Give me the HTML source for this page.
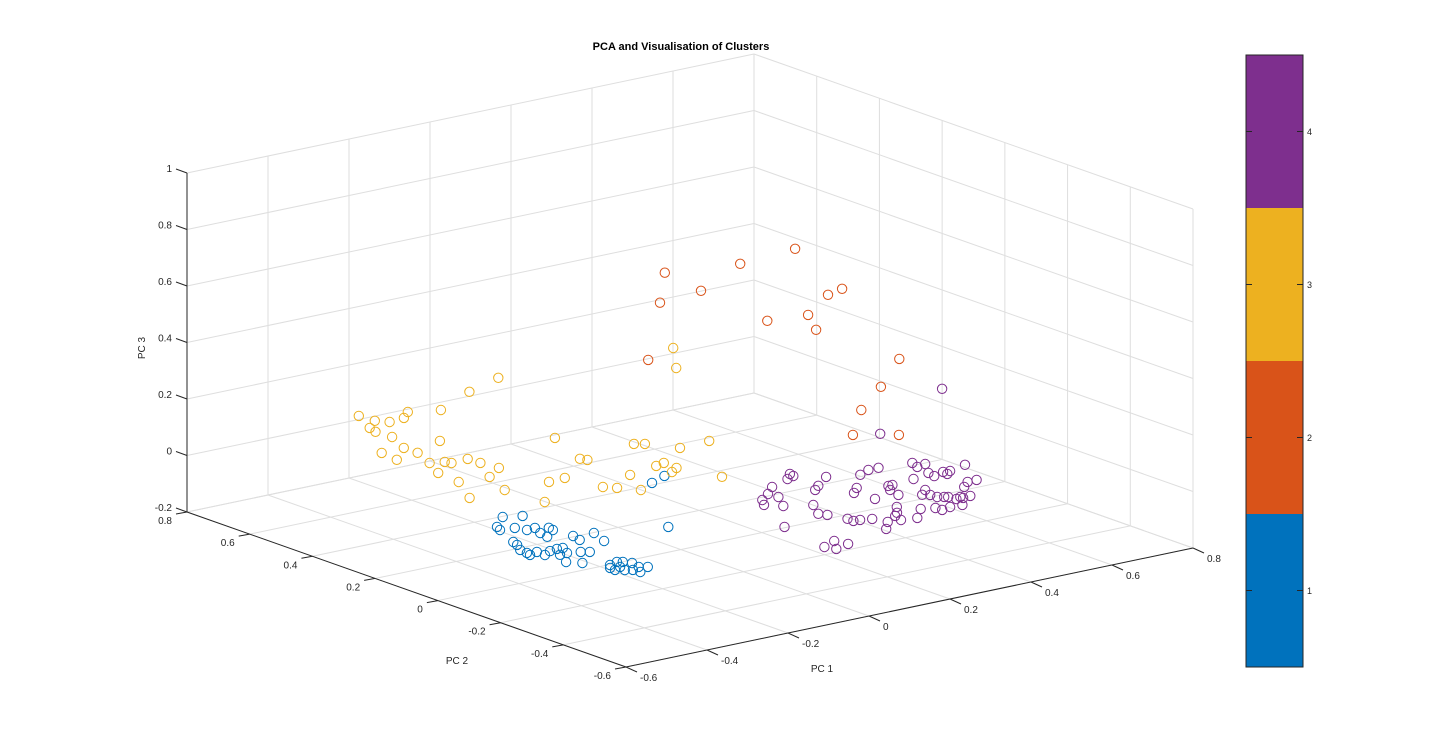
<!DOCTYPE html>
<html><head><meta charset="utf-8"><style>
html,body{margin:0;padding:0;background:#fff;}
svg{display:block;font-family:"Liberation Sans",sans-serif;}
</style></head><body>
<svg id="chart" width="1440" height="749" xmlns="http://www.w3.org/2000/svg">
<rect width="1440" height="749" fill="#fff"/>
<text x="681" y="50" text-anchor="middle" font-size="11" font-weight="bold" fill="#000">PCA and Visualisation of Clusters</text>
<g id="grid"></g>
<g id="axes"></g>
<g id="points"></g>
<text x="822" y="672" text-anchor="middle" font-size="10" fill="#262626">PC 1</text>
<text x="457" y="664" text-anchor="middle" font-size="10" fill="#262626">PC 2</text>
<text x="0" y="0" transform="translate(145,348) rotate(-90)" text-anchor="middle" font-size="10" fill="#262626">PC 3</text>
<g id="colorbar"></g>
</svg>
<script>
const pc1Ticks = [-0.6,-0.4,-0.2,0,0.2,0.4,0.6,0.8];
const pc2Ticks = [-0.6,-0.4,-0.2,0,0.2,0.4,0.6,0.8];
const pc3Ticks = [-0.2,0,0.2,0.4,0.6,0.8,1];
const pc1TickLabels = ["-0.6","-0.4","-0.2","0","0.2","0.4","0.6","0.8"];
const pc2TickLabels = ["-0.6","-0.4","-0.2","0","0.2","0.4","0.6","0.8"];
const pc3TickLabels = ["-0.2","0","0.2","0.4","0.6","0.8","1"];
const clusterLabels = ["1","2","3","4"];
const clusterColors = ["#0072BD","#D95319","#EDB120","#7E2F8E"];

const blueX = [-0.381,-0.433,-0.442,-0.410,-0.345,-0.400,-0.379,-0.393,-0.357,-0.399,-0.360,-0.481,-0.474,-0.498,-0.501,-0.505,-0.481,-0.482,-0.457,-0.437,-0.424,-0.439,-0.480,-0.355,-0.362,-0.310,-0.329,-0.413,-0.399,-0.459,-0.458,-0.425,-0.401,-0.392,-0.382,-0.389,-0.375,-0.439,-0.424,-0.411,-0.438,0.000,0.050,-0.168,-0.418,-0.409];
const blueY = [0.076,0.027,0.006,0.000,0.059,-0.026,-0.024,-0.059,-0.040,-0.089,-0.057,-0.099,-0.078,-0.131,-0.156,-0.171,-0.162,-0.189,-0.173,-0.169,-0.171,-0.204,-0.254,-0.115,-0.145,-0.123,-0.180,-0.214,-0.225,-0.279,-0.206,-0.323,-0.314,-0.321,-0.338,-0.368,-0.379,-0.357,-0.369,-0.378,-0.340,0.092,0.117,-0.177,-0.346,-0.399];
const blueZ = [0,0,0,0,0,0,0,0,0,0,0,0,0,0,0,0,0,0,0,0,0,0,0,0,0,0,0,0,0,0,0,0,0,0,0,0,0,0,0,0,0,0,0,0,0,0];

const orangeX = [0.322,0.183,0.478,0.629,0.299,-0.086,0.270,0.359,0.478,0.526,0.306,0.307,0.404,0.272,0.150,0.221];
const orangeY = [0.467,0.303,0.428,0.448,0.322,-0.007,0.073,0.058,0.148,0.165,-0.036,-0.300,-0.116,-0.224,-0.355,-0.410];
const orangeZ = [0.5,0.5,0.5,0.5,0.5,0.5,0.5,0.5,0.5,0.5,0.5,0.5,0.3,0.3,0.3,0.3];

const yellowX = [-0.408,-0.405,-0.444,-0.452,-0.387,-0.347,-0.315,-0.449,-0.535,-0.542,-0.479,-0.479,-0.505,-0.392,-0.477,-0.471,-0.535,-0.543,-0.428,-0.426,-0.596,-0.473,-0.419,-0.507,-0.498,-0.403,-0.201,-0.361,-0.254,-0.247,-0.342,-0.324,-0.247,-0.296,-0.167,-0.142,-0.169,-0.144,-0.105,-0.088,-0.051,0.025,-0.113,-0.025,-0.131,-0.255,0.005,-0.078];
const yellowY = [0.500,0.453,0.419,0.390,0.429,0.435,0.464,0.341,0.263,0.206,0.265,0.221,0.149,0.262,0.137,0.123,0.083,0.007,0.127,0.089,-0.096,-0.001,0.039,-0.093,-0.209,-0.100,0.142,-0.096,-0.006,-0.021,-0.193,-0.215,-0.157,-0.255,-0.137,-0.129,-0.190,-0.172,0.014,0.001,-0.063,-0.058,-0.277,0.550,0.505,0.436,0.031,-0.086];
const yellowZ = [0.2,0.2,0.2,0.2,0.2,0.2,0.2,0.2,0.2,0.2,0.2,0.2,0.2,0.2,0.2,0.2,0.2,0.2,0.2,0.2,0.2,0.2,0.2,0.2,0.2,0.2,0.2,0.2,0.2,0.2,0.2,0.2,0.2,0.2,0.2,0.2,0.2,0.2,0.2,0.2,0.2,0.2,0.2,0.2,0.2,0.2,0.5,0.5];

const purpleX = [0.738,0.445,0.268,0.293,0.234,0.171,0.145,0.172,0.121,0.098,0.129,0.125,0.103,0.044,0.007,-0.028,0.010,-0.047,-0.022,0.012,0.029,-0.002,0.131,0.145,0.145,0.160,-0.014,0.027,0.036,-0.004,0.183,0.161,0.194,0.232,0.214,0.229,0.239,0.205,0.367,0.357,0.298,0.382,0.348,0.343,0.375,0.373,0.390,0.268,0.242,0.254,0.256,0.267,0.273,0.277,0.292,0.292,0.260,0.205,0.207,0.232,0.178,0.257,0.440,0.369,0.392,0.342,0.312,0.150,0.124,0.223,0.151];
const purpleY = [0.120,-0.061,-0.252,-0.252,-0.270,-0.340,-0.365,-0.241,-0.282,-0.302,-0.181,-0.197,-0.207,-0.234,-0.269,-0.296,-0.298,-0.326,-0.355,-0.315,-0.385,-0.441,-0.298,-0.344,-0.363,-0.365,-0.476,-0.454,-0.487,-0.501,-0.374,-0.447,-0.409,-0.384,-0.391,-0.366,-0.366,-0.429,-0.264,-0.293,-0.357,-0.286,-0.340,-0.365,-0.352,-0.368,-0.355,-0.433,-0.457,-0.467,-0.487,-0.495,-0.500,-0.521,-0.514,-0.523,-0.562,-0.547,-0.566,-0.559,-0.535,-0.422,-0.338,-0.438,-0.437,-0.462,-0.520,-0.495,-0.529,-0.414,-0.424];
const purpleZ = [0.1,0.1,0.1,0.1,0.1,0.1,0.1,0.1,0.1,0.1,0.1,0.1,0.1,0.1,0.1,0.1,0.1,0.1,0.1,0,0.1,0.1,0,0,0,0,0,0,0,0,0,0,0,0,0.1,0.1,0.1,0.1,0.1,0.1,0.1,0.1,0.1,0.1,0.1,0.1,0.1,0.1,0.1,0.1,0.1,0.1,0.1,0.1,0.1,0.1,0.1,0.1,0.1,0.1,0.1,0,0.1,0.1,0.1,0.1,0.1,0.1,0.1,0,0.1];

const X0=-0.6, X1=0.8, Y0=-0.6, Y1=0.8, Z0=-0.2, Z1=1;
function proj(x,y,z){
  const a=(x-X0)/(X1-X0), b=(y-Y0)/(Y1-Y0), c=(z-Z0)/(Z1-Z0);
  return [626+567*a-439*b, 667-119*a-155*b-339*c];
}
const NS='http://www.w3.org/2000/svg';
function mk(tag,parent,attrs){const e=document.createElementNS(NS,tag);for(const k in attrs)e.setAttribute(k,attrs[k]);parent.appendChild(e);return e;}
function line(parent,p,q,col,w){return mk('line',parent,{x1:p[0],y1:p[1],x2:q[0],y2:q[1],stroke:col,'stroke-width':w});}

const grid=document.getElementById('grid');
const gc='#dedede';
// floor
pc1Ticks.forEach(t=>{const l=line(grid,proj(t,Y0,Z0),proj(t,Y1,Z0),gc,1);

});
pc2Ticks.forEach(t=>{const l=line(grid,proj(X0,t,Z0),proj(X1,t,Z0),gc,1);

});
// back wall y=Y1
pc1Ticks.forEach(t=>{const l=line(grid,proj(t,Y1,Z0),proj(t,Y1,Z1),gc,1);

});
pc3Ticks.forEach(t=>{const l=line(grid,proj(X0,Y1,t),proj(X1,Y1,t),gc,1);

});
// right wall x=X1
pc2Ticks.forEach(t=>{const l=line(grid,proj(X1,t,Z0),proj(X1,t,Z1),gc,1);

});
pc3Ticks.forEach(t=>{const l=line(grid,proj(X1,Y0,t),proj(X1,Y1,t),gc,1);

});

const axes=document.getElementById('axes');
const ac='#262626';
let a1=line(axes,proj(X0,Y0,Z0),proj(X1,Y0,Z0),ac,1);


let a2=line(axes,proj(X0,Y0,Z0),proj(X0,Y1,Z0),ac,1);


let a3=line(axes,proj(X0,Y1,Z0),proj(X0,Y1,Z1),ac,1);



pc1Ticks.forEach((t,i)=>{const p=proj(t,Y0,Z0);
  const tk=line(axes,p,[p[0]+11,p[1]+5],ac,1);
  
  
  const tx=mk('text',axes,{x:p[0]+14,y:p[1]+14,'font-size':10,fill:ac});
  tx.textContent=pc1TickLabels[i];
  
  });
pc2Ticks.forEach((t,i)=>{const p=proj(X0,t,Z0);
  const tk=line(axes,p,[p[0]-11,p[1]+2],ac,1);
  
  
  const tx=mk('text',axes,{x:p[0]-15,y:p[1]+12,'font-size':10,fill:ac,'text-anchor':'end'});
  tx.textContent=pc2TickLabels[i];
  
  });
pc3Ticks.forEach((t,i)=>{const p=proj(X0,Y1,t);
  const tk=line(axes,p,[p[0]-11,p[1]-4],ac,1);
  
  
  const tx=mk('text',axes,{x:p[0]-15,y:p[1]-1,'font-size':10,fill:ac,'text-anchor':'end'});
  tx.textContent=pc3TickLabels[i];
  
  });

const pts=document.getElementById('points');
function drawSeries(xs,ys,zs,col,name){
  xs.forEach((x,i)=>{const p=proj(x,ys[i],zs[i]);
    const c=mk('circle',pts,{cx:p[0].toFixed(1),cy:p[1].toFixed(1),r:4.7,fill:'none',stroke:col,'stroke-width':1});
    
    });
}
drawSeries(blueX,blueY,blueZ,clusterColors[0],'cluster-1-point');
drawSeries(orangeX,orangeY,orangeZ,clusterColors[1],'cluster-2-point');
drawSeries(yellowX,yellowY,yellowZ,clusterColors[2],'cluster-3-point');
drawSeries(purpleX,purpleY,purpleZ,clusterColors[3],'cluster-4-point');

const cb=document.getElementById('colorbar');
const cbX=1246,cbW=57,cbTop=55,cbBot=667,n=clusterLabels.length,seg=(cbBot-cbTop)/n;
clusterLabels.forEach((lab,i)=>{
  const y0=cbBot-(i+1)*seg;
  const r=mk('rect',cb,{x:cbX,y:y0,width:cbW,height:seg,fill:clusterColors[i]});
  
  
  const yc=y0+seg/2;
  const t1=line(cb,[cbX,yc],[cbX+6,yc],ac,1);
  
  
  const t2=line(cb,[cbX+cbW-6,yc],[cbX+cbW,yc],ac,1);
  
  
  const tx=mk('text',cb,{x:cbX+cbW+4,y:yc+3.5,'font-size':9,fill:ac});
  tx.textContent=lab;
  
  
});
const ob=mk('rect',cb,{x:cbX,y:cbTop,width:cbW,height:cbBot-cbTop,fill:'none',stroke:ac,'stroke-width':1});


</script>
</body></html>
